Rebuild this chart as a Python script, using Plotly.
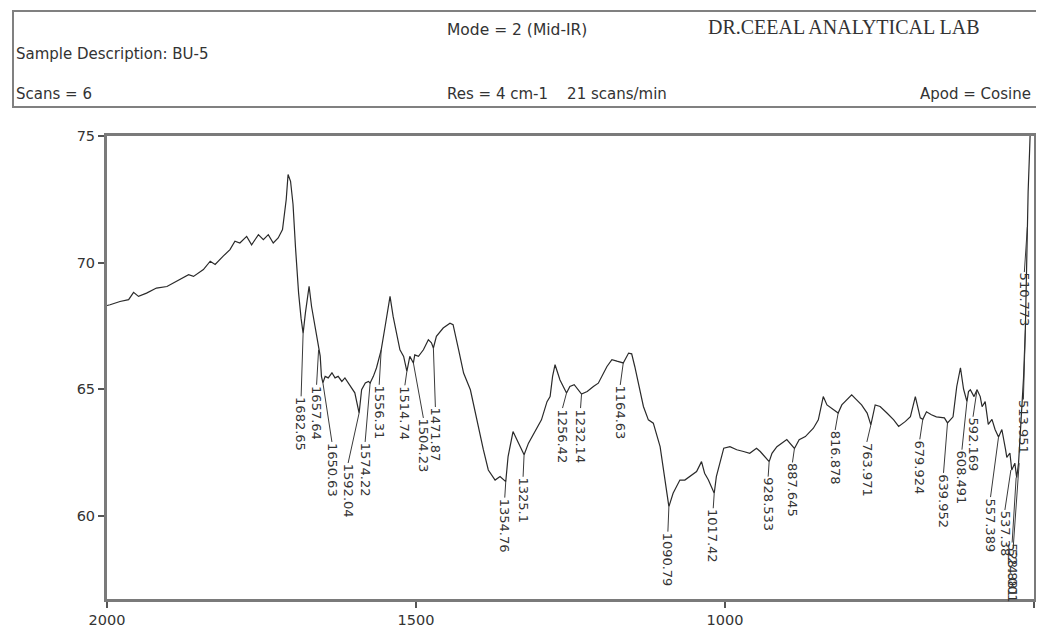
import plotly.graph_objects as go

# ---------------- data ----------------
wavenumber = [2000, 1995, 1979, 1965, 1957, 1949, 1936, 1920, 1903, 1887, 1868, 1860, 1844, 1833, 1825,
              1812, 1801, 1793, 1785, 1774, 1766, 1755, 1747, 1739, 1731, 1723, 1716, 1710, 1707, 1703,
              1699, 1695, 1690, 1686, 1682.65, 1679, 1673, 1669, 1663, 1657.64, 1655, 1653, 1650.63, 1647,
              1642, 1636, 1631, 1626, 1620, 1615, 1607, 1599, 1592.04, 1588, 1582, 1577, 1574.22, 1569,
              1564, 1558, 1556.31, 1550, 1542, 1537, 1531, 1526, 1520, 1514.74, 1510, 1504.23, 1502, 1496,
              1488, 1480, 1475, 1471.87, 1467, 1456, 1445, 1440, 1431, 1423, 1412, 1402, 1391, 1383, 1372,
              1364, 1354.76, 1351, 1343, 1334, 1325.1, 1318, 1307, 1297, 1288, 1283, 1279, 1275, 1267,
              1256.42, 1251, 1244, 1232.14, 1223, 1213, 1205, 1191, 1183, 1175, 1164.63, 1156, 1151, 1146,
              1140, 1132, 1124, 1116, 1105, 1100, 1090.79, 1084, 1073, 1065, 1057, 1046, 1038, 1033, 1027,
              1017.42, 1014, 1008, 1002, 992, 981, 970, 960, 949, 943, 928.533, 924, 916, 900, 887.645, 880,
              870, 857, 849, 841, 835, 824, 816.878, 811, 803, 795, 787, 779, 770, 763.971, 757, 749, 738,
              727, 719, 708, 700, 692, 684, 679.924, 674, 666, 658, 645, 639.952, 631, 625, 619, 614,
              608.491, 606, 603, 597, 592.169, 587, 584, 579, 574, 568, 563, 557.389, 552, 546, 544, 539,
              536, 531, 528, 525, 523, 520, 517, 514, 512, 510.5, 509.5, 507, 505]
transmittance = [68.3, 68.33, 68.46, 68.53, 68.82, 68.66, 68.79, 68.99, 69.05, 69.25, 69.52, 69.45, 69.72,
                 70.05, 69.92, 70.25, 70.51, 70.84, 70.77, 71.03, 70.7, 71.1, 70.9, 71.1, 70.77, 70.97,
                 71.3, 72.49, 73.48, 73.21, 72.3, 70.6, 68.8, 67.8, 67.2, 68.0, 69.06, 68.26, 67.34, 66.55,
                 66.3, 65.5, 65.24, 65.5, 65.44, 65.64, 65.44, 65.5, 65.3, 65.44, 65.17, 64.85, 64.05,
                 64.97, 65.24, 65.3, 65.24, 65.5, 65.83, 66.43, 66.55, 67.47, 68.66, 67.87, 67.08, 66.55,
                 66.29, 65.7, 66.29, 66.03, 66.35, 66.29, 66.55, 66.95, 66.83, 66.62, 67.08, 67.41, 67.6,
                 67.54, 66.55, 65.63, 64.97, 63.78, 62.6, 61.8, 61.4, 61.54, 61.34, 62.33, 63.32, 62.86,
                 62.4, 62.86, 63.32, 63.78, 64.5, 64.7, 65.5, 65.96, 65.36, 64.84, 65.1, 65.17, 64.8, 64.9,
                 65.1, 65.23, 65.89, 66.16, 66.1, 66.03, 66.42, 66.39, 65.89, 65.23, 64.31, 63.78, 63.65,
                 62.72, 61.93, 60.35, 60.88, 61.4, 61.4, 61.54, 61.74, 62.13, 61.67, 61.41, 60.88, 61.54,
                 62.07, 62.66, 62.72, 62.6, 62.53, 62.46, 62.66, 62.53, 62.13, 62.46, 62.72, 63.0, 62.65,
                 63.0, 63.12, 63.45, 63.78, 64.7, 64.37, 64.18, 64.05, 64.37, 64.57, 64.77, 64.57, 64.37,
                 64.05, 63.58, 64.37, 64.31, 64.05, 63.78, 63.52, 63.72, 63.91, 64.7, 63.86, 63.8, 64.1,
                 63.98, 63.9, 63.86, 63.66, 63.9, 65.1, 65.84, 65.0, 64.5, 64.9, 64.97, 64.7, 64.97, 64.7,
                 64.3, 64.5, 63.6, 63.8, 63.4, 63.1, 63.4, 62.6, 62.3, 62.47, 61.8, 62.07, 61.5, 62.07,
                 62.86, 64.2, 65.4, 67.35, 70.0, 71.4, 72.8, 74.5, 76.0]

peak_wn = [1682.65, 1657.64, 1650.63, 1592.04, 1574.22, 1556.31, 1514.74, 1504.23, 1471.87, 1354.76,
           1325.1, 1256.42, 1232.14, 1164.63, 1090.79, 1017.42, 928.533, 887.645, 816.878, 763.971,
           679.924, 639.952, 608.491, 592.169, 557.389, 537.38, 528.881, 524.001, 513.951, 510.773]
peak_t = [67.2, 66.55, 65.24, 64.05, 65.24, 66.55, 65.7, 66.03, 66.62, 61.34, 62.4, 64.84, 64.8, 66.03,
          60.35, 60.88, 62.13, 62.65, 64.05, 63.58, 63.8, 63.66, 64.5, 64.97, 63.1, 61.8, 61.5, 62.07,
          67.35, 71.4]
peak_labels = ["1682.65", "1657.64", "1650.63", "1592.04", "1574.22", "1556.31", "1514.74", "1504.23",
               "1471.87", "1354.76", "1325.1", "1256.42", "1232.14", "1164.63", "1090.79", "1017.42",
               "928.533", "887.645", "816.878", "763.971", "679.924", "639.952", "608.491", "592.169",
               "557.389", "537.38", "528.881", "524.001", "513.951", "510.773"]

y_ticks = [60, 65, 70, 75]
x_ticks = [2000, 1500, 1000, 500]

# ---------------- label placement (pixels) ----------------
label_dx = [-2, -2, 9, -11, -5, -2, -2, 10, 2, -1, -1, -4, -1, -3, -1, -1, -1, -2, -3, -4, -3, -4, -5, -4,
            -8, -6, -4, -6, -2, -3]
label_gap = [63, 35, 59, 50, 59, 35, 14, 55, 59, 16, 22, 15, 14, 22, 25, 15, 15, 14, 17, 17, 20, 50, 48,
             27, 60, 40, 65, 85, 70, 45]

# ---------------- layout geometry ----------------
# the page adds an 8px body margin, so the figure is drawn 8px smaller and all
# header positions below are given in screen pixels then shifted by OFF
OFF = 8
W, H = 1044 - OFF, 627 - OFF
ML, MR, MT, MB = 107 - OFF, 10, 136 - OFF, 28
PW, PH = W - ML - MR, H - MT - MB
FONT = "DejaVu Sans"


def px_x(p):
    return (p - OFF - ML) / PW


def px_y(p):
    return (H - MB - (p - OFF)) / PH


fig = go.Figure()
fig.add_trace(go.Scatter(x=wavenumber, y=transmittance, mode="lines",
                         line=dict(color="#2a2a2a", width=1.2), hoverinfo="x+y", showlegend=False))

shapes = []
annotations = []
LABEL_SIZE = 13
for wn, t, lab, dx, gap in zip(peak_wn, peak_t, peak_labels, label_dx, label_gap):
    shapes.append(dict(type="line", xref="x", yref="y", xsizemode="pixel", ysizemode="pixel",
                       xanchor=wn, yanchor=t, x0=0, y0=0, x1=dx, y1=-gap,
                       line=dict(color="#3a3a3a", width=1)))
    length = sum(4.13 if c == "." else 8.27 for c in lab)
    annotations.append(dict(x=wn, y=t, xref="x", yref="y", text=lab, showarrow=False,
                            textangle=90, xanchor="center", yanchor="middle",
                            xshift=dx, yshift=-(gap + 1 + length / 2),
                            font=dict(family=FONT, size=LABEL_SIZE, color="#333")))

# header box
shapes.append(dict(type="rect", xref="paper", yref="paper",
                   x0=px_x(13), x1=px_x(1040), y0=px_y(107), y1=px_y(11),
                   line=dict(color="#808080", width=2)))

HF = 15
header = [
    ("Mode = 2 (Mid-IR)", 445, 30, "left", FONT, 15.5),
    ("DR.CEEAL ANALYTICAL LAB", 706, 27, "left", "Liberation Serif", 20),
    ("Sample Description: BU-5", 14, 54, "left", FONT, HF),
    ("Scans = 6", 14, 94, "left", FONT, HF),
    ("Res = 4 cm-1    21 scans/min", 445, 94, "left", FONT, HF),
    ("Apod = Cosine", 1033, 94, "right", FONT, HF),
]
for txt, x, y, anchor, fam, sz in header:
    annotations.append(dict(x=px_x(x), y=px_y(y), xref="paper", yref="paper", text=txt,
                            showarrow=False, xanchor=anchor, yanchor="middle",
                            font=dict(family=fam, size=sz, color="#333")))

axis_common = dict(showline=True, mirror=True, linecolor="#7a7a7a", linewidth=3,
                   ticks="outside", ticklen=6, tickwidth=1.5, tickcolor="#555",
                   showgrid=False, zeroline=False, automargin=False,
                   tickfont=dict(family=FONT, size=14.5, color="#333"))

fig.update_layout(
    width=W, height=H,
    margin=dict(l=ML, r=MR, t=MT, b=MB, pad=0, autoexpand=False),
    paper_bgcolor="white", plot_bgcolor="white",
    xaxis=dict(range=[2000, 500], tickvals=x_ticks, **axis_common),
    yaxis=dict(range=[56.7, 75], tickvals=y_ticks, **axis_common),
    shapes=shapes, annotations=annotations,
    showlegend=False,
)

fig.write_html("out.html")
